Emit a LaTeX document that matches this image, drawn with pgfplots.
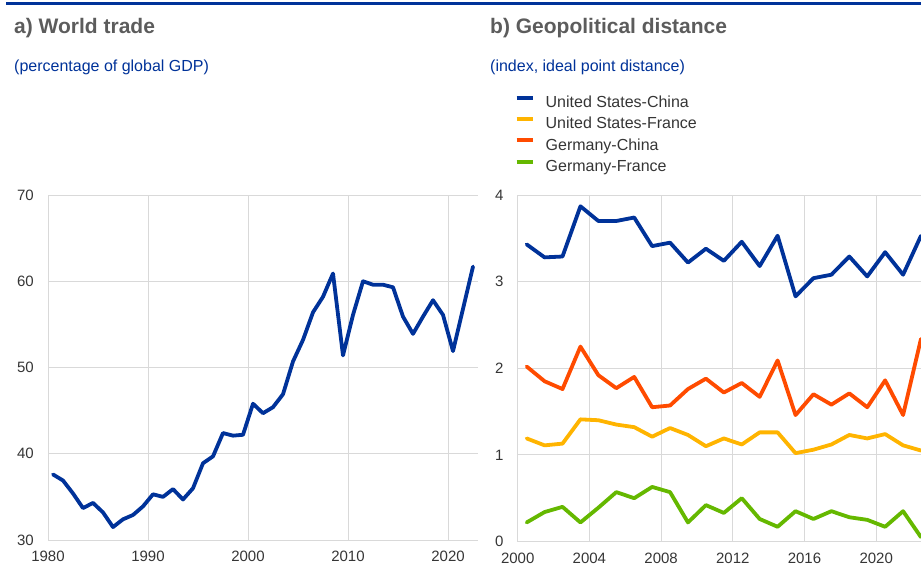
\documentclass[border=0pt]{standalone}
\usepackage{pgfplots}
\pgfplotsset{compat=1.18}
\usepackage{pgfplotstable}
\usepackage{fontspec}
\setmainfont{Liberation Sans}
\definecolor{ecbblue}{HTML}{003299}
\definecolor{ecbyellow}{HTML}{FFB400}
\definecolor{ecborange}{HTML}{FF4B00}
\definecolor{ecbgreen}{HTML}{65B800}
\definecolor{titlegray}{HTML}{5C5C5C}
\definecolor{gridgray}{HTML}{D9D9D9}
\definecolor{labelgray}{HTML}{353535}

\pgfplotstableread{
year trade
1980 37.6
1981 36.9
1982 35.4
1983 33.7
1984 34.3
1985 33.2
1986 31.5
1987 32.4
1988 32.9
1989 33.9
1990 35.3
1991 35.0
1992 35.9
1993 34.7
1994 36.0
1995 38.9
1996 39.7
1997 42.4
1998 42.1
1999 42.2
2000 45.8
2001 44.7
2002 45.4
2003 46.9
2004 50.7
2005 53.2
2006 56.4
2007 58.2
2008 60.9
2009 51.4
2010 56.1
2011 60.0
2012 59.6
2013 59.6
2014 59.3
2015 55.9
2016 53.9
2017 55.9
2018 57.8
2019 56.1
2020 51.9
2021 56.8
2022 61.7
}\worldtrade

\pgfplotstableread{
year uscn usfr decn defr
2000 3.43 1.19 2.02 0.22
2001 3.28 1.11 1.85 0.34
2002 3.29 1.13 1.76 0.40
2003 3.87 1.41 2.25 0.22
2004 3.70 1.40 1.92 0.39
2005 3.70 1.35 1.77 0.57
2006 3.74 1.32 1.90 0.50
2007 3.41 1.21 1.55 0.63
2008 3.45 1.31 1.57 0.57
2009 3.22 1.23 1.76 0.22
2010 3.38 1.10 1.88 0.42
2011 3.24 1.19 1.72 0.33
2012 3.46 1.12 1.83 0.50
2013 3.18 1.26 1.67 0.26
2014 3.53 1.26 2.09 0.17
2015 2.83 1.02 1.46 0.35
2016 3.04 1.06 1.70 0.26
2017 3.08 1.12 1.58 0.35
2018 3.29 1.23 1.71 0.28
2019 3.06 1.19 1.55 0.25
2020 3.34 1.24 1.86 0.17
2021 3.08 1.11 1.46 0.35
2022 3.53 1.05 2.34 0.05
}\geodist

\pgfplotsset{
  ecbaxis/.style={
    scale only axis,
    axis line style={draw=none},
    major tick length=0pt,
    grid=major,
    major grid style={draw=gridgray, line width=1pt},
    tick label style={font=\fontsize{15}{18}\selectfont, text=labelgray},
    /pgf/number format/assume math mode=true,
    /pgf/number format/1000 sep={},
    yticklabel style={inner sep=0pt, xshift=-14pt},
    xticklabel style={inner sep=0pt, yshift=-11pt},
    every axis plot/.append style={line width=3.8pt, line join=round, line cap=round},
  }
}

\begin{document}
\begin{tikzpicture}
\path[use as bounding box] (0pt,0pt) rectangle (921pt,-565pt);
\draw[ecbblue, line width=2.2pt] (6pt,-3.5pt) -- (921pt,-3.5pt);

\node[anchor=base west, inner sep=0pt, font=\fontsize{21}{25}\selectfont\bfseries, text=titlegray] at (14pt,-33pt) {a) World trade};
\node[anchor=base west, inner sep=0pt, font=\fontsize{16}{19}\selectfont, text=ecbblue] at (14pt,-71.5pt) {(percentage of global GDP)};
\node[anchor=base west, inner sep=0pt, font=\fontsize{21}{25}\selectfont\bfseries, text=titlegray] at (490pt,-33pt) {b) Geopolitical distance};
\node[anchor=base west, inner sep=0pt, font=\fontsize{16}{19}\selectfont, text=ecbblue] at (490pt,-71.5pt) {(index, ideal point distance)};

\begin{axis}[ecbaxis,
  at={(48pt,-540pt)}, anchor=south west,
  width=430pt, height=345pt,
  xmin=1980, xmax=2023, ymin=30, ymax=70,
  xtick={1980,1990,2000,2010,2020},
  ytick={30,40,50,60,70},
]
\addplot[ecbblue] table[x expr=\thisrow{year}+0.5, y=trade] {\worldtrade};
\end{axis}

\begin{axis}[ecbaxis,
  at={(517.7pt,-541.5pt)}, anchor=south west,
  width=403.3pt, height=346.5pt,
  xmin=2000, xmax=2022.5, ymin=0, ymax=4,
  xtick={2000,2004,2008,2012,2016,2020},
  ytick={0,1,2,3,4},
  legend cell align=left,
  legend image code/.code={\draw[#1, line width=4pt, line cap=butt] (0pt,5.7pt) -- (16pt,5.7pt);},
  legend style={draw=none, fill=none, inner sep=0pt, outer sep=0pt,
    at={(-0.0075,1.287)}, anchor=north west,
    row sep=5.3pt, column sep=11pt,
    nodes={inner sep=0pt, text height=12pt, text depth=4pt, font=\fontsize{16}{19}\selectfont, text=labelgray}},
]
\addplot[ecbblue] table[x expr=\thisrow{year}+0.5, y=uscn] {\geodist};
\addlegendentry{United States-China}
\addplot[ecbyellow] table[x expr=\thisrow{year}+0.5, y=usfr] {\geodist};
\addlegendentry{United States-France}
\addplot[ecborange] table[x expr=\thisrow{year}+0.5, y=decn] {\geodist};
\addlegendentry{Germany-China}
\addplot[ecbgreen] table[x expr=\thisrow{year}+0.5, y=defr] {\geodist};
\addlegendentry{Germany-France}
\end{axis}
\end{tikzpicture}
\end{document}
